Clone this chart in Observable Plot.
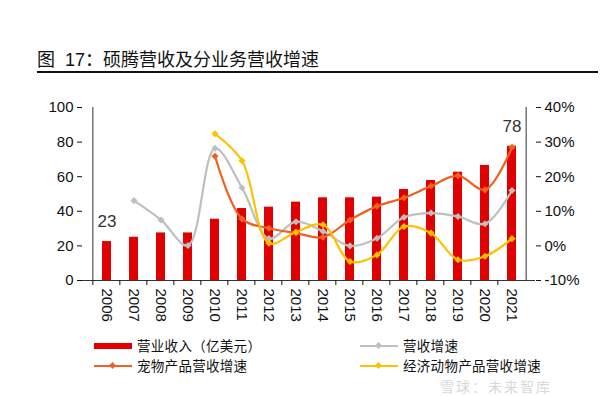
<!DOCTYPE html>
<html>
<head>
<meta charset="utf-8">
<script src="https://cdn.jsdelivr.net/npm/d3@7"></script>
<script src="https://cdn.jsdelivr.net/npm/@observablehq/plot@0.6"></script>
<style>
  body { margin: 0; background: #fff; font-family: "Liberation Sans", Arial, "Noto Sans CJK SC", sans-serif; }
  #wrap { position: relative; width: 600px; height: 396px; overflow: hidden; }
  #title { position: absolute; left: 37px; top: 45px; font-size: 18px; color: #111; font-family: "Liberation Sans", "Noto Sans CJK SC", sans-serif; white-space: nowrap; }
  #rule { position: absolute; left: 37px; top: 71px; width: 561px; height: 2px; background: #111; }
  #chart { position: absolute; left: 0; top: 0; }
  .lg { position: absolute; font-size: 13.5px; color: #111; font-family: "Noto Sans CJK SC", sans-serif; white-space: nowrap; line-height: 15px; letter-spacing: 0.3px; }
  .sw { position: absolute; }
  #wm { position: absolute; left: 440px; top: 378.5px; font-size: 14px; line-height: 14px; color: #d8d8d8; font-family: "Noto Sans CJK SC", sans-serif; white-space: nowrap; letter-spacing: 2px; }
</style>
</head>
<body>
<div id="wrap">
  <div id="title">图&nbsp; 17：硕腾营收及分业务营收增速</div>
  <div id="rule"></div>
  <div id="chart"></div>
  <div id="legend"></div>
  <div id="wm">雪球：未来智库</div>
</div>
<script>
const years = ["2006","2007","2008","2009","2010","2011","2012","2013","2014","2015","2016","2017","2018","2019","2020","2021"];
const revenue = [22.5, 25, 27.5, 27.5, 35.4, 41.6, 42.4, 45.3, 47.8, 47.8, 48.2, 52.6, 57.8, 62.6, 66.5, 77.6];
const revGrowth = [null, 13.1, 7.5, 0.1, 28.2, 16.8, 2.1, 7.0, 4.2, 0.0, 2.2, 8.3, 9.5, 8.5, 6.4, 16.0];
const petGrowth = [null, null, null, null, 25.9, 7.8, 5.1, 3.7, 2.5, 7.5, 11.5, 13.9, 17.3, 20.3, 16.2, 28.5];
const livestockGrowth = [null, null, null, null, 32.4, 24.6, 0.8, 4.0, 6.1, -4.5, -2.6, 5.6, 3.7, -4.0, -3.0, 2.1];
const leftTicks = [0, 20, 40, 60, 80, 100];
const rightTicks = [-10, 0, 10, 20, 30, 40];
const labelValues = {"2006": "23", "2021": "78"};
const seriesNames = ["营业收入（亿美元）", "营收增速", "宠物产品营收增速", "经济动物产品营收增速"];
const colors = {bar: "#E00000", gray: "#BFBFBF", pet: "#F2601E", live: "#FFC000"};

// map right-axis percent onto left-axis domain [0,100] <- [-10,40]
const toLeft = v => (v + 10) * 2;

const bars = years.map((y, i) => ({year: y, value: revenue[i]}));
const mk = arr => years.map((y, i) => ({year: y, v: arr[i]})).filter(d => d.v != null);
const gray = mk(revGrowth), pet = mk(petGrowth), live = mk(livestockGrowth);
const labels = bars.filter(d => labelValues[d.year]).map(d => ({...d, text: labelValues[d.year]}));

const lineOpts = (color) => ({x: "year", y: d => toLeft(d.v), stroke: color, strokeWidth: 2.2, curve: "catmull-rom"});
const dotOpts = (color) => ({x: "year", y: d => toLeft(d.v), fill: color, symbol: "diamond2", r: 3.2});

const chart = Plot.plot({
  width: 600,
  height: 345,
  marginTop: 107,
  marginBottom: 65,
  marginLeft: 82,
  marginRight: 65,
  style: {fontFamily: "Liberation Sans, Arial, sans-serif", fontSize: "15px", color: "#111", background: "transparent"},
  x: {domain: years, padding: 0.68, align: 0.5},
  y: {domain: [0, 100]},
  marks: [
    Plot.barY(bars, {x: "year", y: "value", fill: colors.bar}),
    Plot.line(gray, lineOpts(colors.gray)),
    Plot.dot(gray, dotOpts(colors.gray)),
    Plot.line(pet, lineOpts(colors.pet)),
    Plot.dot(pet, dotOpts(colors.pet)),
    Plot.line(live, lineOpts(colors.live)),
    Plot.dot(live, dotOpts(colors.live)),
    Plot.text(labels, {x: "year", y: "value", text: "text", dy: -20, fontSize: 17, fill: "#333"}),
    Plot.axisY({anchor: "left", ticks: leftTicks, tickSize: 5, tickPadding: 4, label: null, fontSize: 15}),
    Plot.ruleX([0], {x: () => years[0], dx: -14.15, y1: 0, y2: 100, stroke: "#333"}),
    Plot.axisY({anchor: "right", ticks: rightTicks.map(toLeft), tickFormat: t => (t / 2 - 10) + "%", tickSize: 5, tickPadding: 4, label: null, fontSize: 15}),
    Plot.ruleX([0], {x: () => years[years.length - 1], dx: 14.15, y1: 0, y2: 100, stroke: "#333"}),
    Plot.ruleY([0], {stroke: "#333"}),
    Plot.axisX({tickSize: 5, text: null, dx: -14.15, label: null}),
    Plot.axisX({tickSize: 0, tickRotate: 90, tickPadding: 8, label: null, fontSize: 15, textAnchor: "start"})
  ]
});
document.getElementById("chart").appendChild(chart);

// legend
const lg = document.getElementById("legend");
const items = [
  {name: seriesNames[0], type: "bar", color: colors.bar, x: 94, y: 346},
  {name: seriesNames[1], type: "line", color: colors.gray, x: 360, y: 346},
  {name: seriesNames[2], type: "line", color: colors.pet, x: 94, y: 366},
  {name: seriesNames[3], type: "line", color: colors.live, x: 360, y: 366}
];
for (const it of items) {
  const sw = document.createElement("div");
  sw.className = "sw";
  if (it.type === "bar") {
    sw.style.cssText = `left:${it.x}px;top:${it.y - 3}px;width:38px;height:6px;background:${it.color}`;
    lg.appendChild(sw);
  } else {
    sw.style.cssText = `left:${it.x}px;top:${it.y - 1}px;width:38px;height:2px;background:${it.color}`;
    lg.appendChild(sw);
    const dm = document.createElement("div");
    dm.className = "sw";
    dm.style.cssText = `left:${it.x + 16}px;top:${it.y - 3}px;width:5px;height:5px;background:${it.color};transform:rotate(45deg)`;
    lg.appendChild(dm);
  }
  const t = document.createElement("div");
  t.className = "lg";
  t.textContent = it.name;
  t.style.left = (it.x + 43) + "px";
  t.style.top = (it.y - 8) + "px";
  lg.appendChild(t);
}
</script>
</body>
</html>
